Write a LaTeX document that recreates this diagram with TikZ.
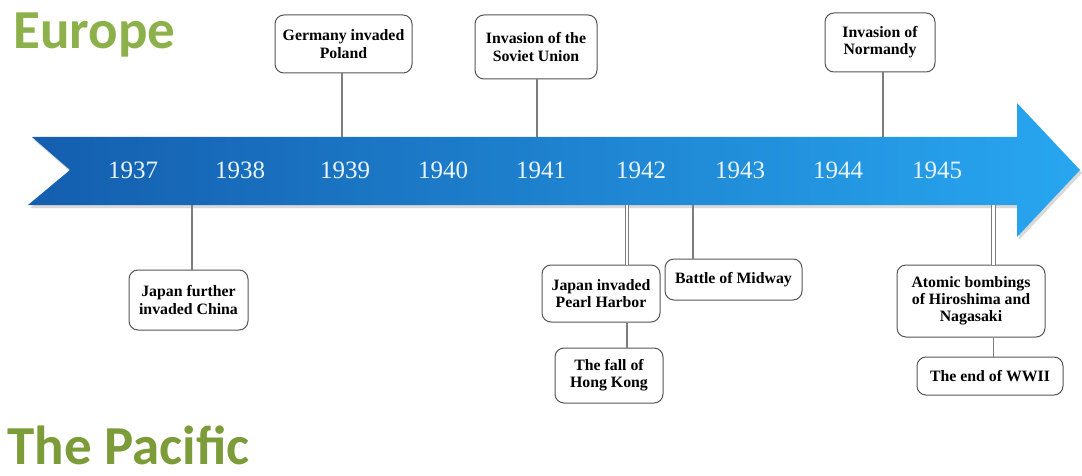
\documentclass[tikz,border=0pt]{standalone}
\usepackage{fontspec}
\setmainfont{Liberation Serif}
\newfontfamily\titlefont{Carlito}
\usetikzlibrary{shadows}
\definecolor{europegreen}{RGB}{140,176,74}
\definecolor{pacificgreen}{RGB}{124,156,58}
\definecolor{arrowdark}{RGB}{20,94,174}
\definecolor{arrowlight}{RGB}{40,166,240}
\definecolor{yeartext}{RGB}{232,244,255}
\definecolor{boxline}{RGB}{85,85,85}
\definecolor{linkgray}{RGB}{125,125,125}

\begin{document}
\begin{tikzpicture}[
    x=0.5pt, y=-0.5pt,
    % node styles
    heading/.style = {
      anchor=base west,
      inner sep=0pt,
      font=\titlefont\bfseries\fontsize{27.5}{30}\selectfont
    },
    year/.style = {
      text=yeartext,
      font=\fontsize{12.5}{14}\selectfont
    },
    event/.style = {
      draw=boxline,
      line width=0.5pt,
      fill=white,
      rounded corners=4.5pt,
      align=center,
      inner sep=1pt,
      font=\bfseries\fontsize{7.9}{8.6}\selectfont
    },
    % line styles
    link/.style = {draw=linkgray, line width=0.6pt},
    dlink/.style = {draw=linkgray, line width=0.5pt, double=white, double distance=1.4pt}
  ]
  \useasboundingbox (0,0) rectangle (1082,476);

  % --- Headings
  \node[heading, text=europegreen] (europe) at (13,49) {Europe};
  \node[heading, text=pacificgreen] (pacific) at (7,464) {The Pacific};

  % --- Time arrow
  \path[drop shadow={opacity=0.3, shadow xshift=1pt, shadow yshift=-1.5pt},
        left color=arrowdark, right color=arrowlight]
    (32,137) -- (1017,137) -- (1017,103) -- (1080,170) -- (1017,237)
    -- (1017,205) -- (28,205) -- (70,170) -- cycle;

  \coordinate (tPoland) at (342,137);
  \coordinate (tSoviet) at (537,137);
  \coordinate (tNormandy) at (883,137);
  \coordinate (bChina) at (192,205);
  \coordinate (bPearl) at (627,205);
  \coordinate (bMidway) at (693,205);
  \coordinate (bAtomic) at (993.5,205);

  % --- Years
  \node[year] (y1937) at (133,170) {1937};
  \node[year] (y1938) at (240,170) {1938};
  \node[year] (y1939) at (345,170) {1939};
  \node[year] (y1940) at (443,170) {1940};
  \node[year] (y1941) at (541,170) {1941};
  \node[year] (y1942) at (641,170) {1942};
  \node[year] (y1943) at (740,170) {1943};
  \node[year] (y1944) at (838,170) {1944};
  \node[year] (y1945) at (937,170) {1945};

  % --- Europe events
  \node[event, minimum width=68.5pt, minimum height=29pt] (poland) at (343.5,44) {Germany invaded\\Poland};
  \node[event, minimum width=61pt, minimum height=32pt] (soviet) at (536,47) {Invasion of the\\Soviet Union};
  \node[event, minimum width=55pt, minimum height=29.5pt] (normandy) at (880,42.5) {Invasion of\\Normandy};

  % --- Pacific events
  \node[event, minimum width=59.5pt, minimum height=30pt] (china) at (188.5,300) {Japan further\\invaded China};
  \node[event, minimum width=59pt, minimum height=28.5pt] (pearl) at (601,293.5) {Japan invaded\\Pearl Harbor};
  \node[event, minimum width=54pt, minimum height=27.5pt] (hongkong) at (609,375.5) {The fall of\\Hong Kong};
  \node[event, minimum width=68.5pt, minimum height=20.5pt] (midway) at (733.5,279.5) {Battle of Midway};
  \node[event, minimum width=74pt, minimum height=36pt] (atomic) at (971,301) {Atomic bombings\\of Hiroshima and\\Nagasaki};
  \node[event, minimum width=73pt, minimum height=19pt] (endwar) at (990,376) {The end of WWII};

  % --- Links
  \draw[link] (tPoland) -- (poland.south -| tPoland);
  \draw[link] (tSoviet) -- (soviet.south -| tSoviet);
  \draw[link] (tNormandy) -- (normandy.south -| tNormandy);
  \draw[link] (bChina) -- (china.north -| bChina);
  \draw[dlink] (bPearl) -- (pearl.north -| bPearl);
  \draw[link] (pearl.south -| bPearl) -- (hongkong.north -| bPearl);
  \draw[link] (bMidway) -- (midway.north -| bMidway);
  \draw[dlink] (bAtomic) -- (atomic.north -| bAtomic);
  \draw[link] (atomic.south -| bAtomic) -- (endwar.north -| bAtomic);

\end{tikzpicture}
\end{document}
